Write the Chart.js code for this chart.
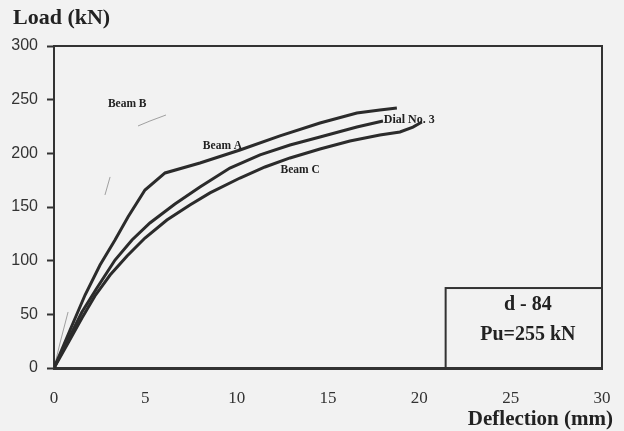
<!DOCTYPE html>
<html>
<head>
<meta charset="utf-8">
<script src="https://cdn.jsdelivr.net/npm/chart.js@4.4.1/dist/chart.umd.min.js"></script>
<style>
  html, body { margin: 0; padding: 0; background: #f2f2f2; }
  #wrap { width: 624px; height: 431px; position: relative; }
</style>
</head>
<body>
<div id="wrap"><canvas id="myChart" width="624" height="431"></canvas></div>
<script>
// Achsen
const xTicks = [0, 5, 10, 15, 20, 25, 30];
const yTicks = [0, 50, 100, 150, 200, 250, 300];

// Beam A (oberste Kurve)
const deflA = [0, 0.88, 1.70, 2.52, 3.34, 4.05, 4.98, 6.08, 7.99, 10.18, 12.37, 14.56, 16.58, 17.84, 18.77];
const loadA = [0, 35.4, 68.0, 96.0, 119.3, 140.7, 165.8, 181.7, 191.0, 203.1, 216.2, 228.3, 237.6, 240.4, 242.2];

// mittlere Kurve (endet bei Dial No. 3)
const deflM = [0, 0.77, 1.53, 2.35, 3.34, 4.27, 5.25, 6.62, 7.99, 9.63, 11.28, 12.92, 14.56, 16.58, 18.01];
const loadM = [0, 26.1, 52.2, 74.5, 100.6, 119.3, 135.1, 152.8, 168.6, 186.3, 198.5, 207.8, 215.2, 224.5, 230.1];

// Beam C (unterste Kurve)
const deflC = [0, 0.77, 1.53, 2.24, 3.07, 4.00, 4.98, 6.18, 7.44, 8.54, 10.18, 11.55, 12.92, 14.56, 16.20, 17.84, 18.94, 19.65, 20.14];
const loadC = [0, 23.3, 46.6, 67.1, 86.6, 104.4, 121.1, 137.9, 151.9, 163.1, 177.0, 187.3, 195.7, 204.0, 211.5, 217.1, 219.9, 224.5, 229.2];

// Beam B, nur blass erkennbar (Lücken = null)
const deflB = [0, 0.33, 0.77, null, 2.79, 3.07, null, 4.60, 5.25, 6.13];
const loadB = [0, 23.3, 52.2, null, 161.2, 178.0, null, 225.5, 230.1, 235.7];

// Beschriftungen im Diagramm
const curveLabels = [
  { text: 'Beam B', x: 2.95, y: 246, size: 11.5 },
  { text: 'Beam A', x: 8.15, y: 207, size: 11.5 },
  { text: 'Beam C', x: 12.4, y: 184, size: 11.5 },
  { text: 'Dial No. 3', x: 18.05, y: 231, size: 12 }
];

// Kasten unten rechts
const boxX = [21.44, 30];
const boxY = [0, 74.5];
const boxText = ['d - 84', 'Pu=255 kN'];

function toPoints(xs, ys) {
  return xs.map((x, i) => (x === null ? { x: null, y: null } : { x: x, y: ys[i] }));
}

const lineColor = '#2b2b2b';
const serif = "'Liberation Serif', 'DejaVu Serif', serif";

// eigene Zeichnungen: Rahmen, Titel, Beschriftungen, Kasten
const extras = {
  id: 'extras',
  afterDatasetsDraw(chart) {
    const ctx = chart.ctx;
    const a = chart.chartArea;
    const sx = chart.scales.x;
    const sy = chart.scales.y;
    ctx.save();

    // Rahmen oben und rechts
    ctx.strokeStyle = '#333';
    ctx.lineWidth = 2;
    ctx.beginPath();
    ctx.moveTo(a.left, a.top);
    ctx.lineTo(a.right, a.top);
    ctx.lineTo(a.right, a.bottom);
    ctx.stroke();

    // Kurvenbeschriftungen
    ctx.fillStyle = '#222';
    ctx.textBaseline = 'middle';
    ctx.textAlign = 'left';
    curveLabels.forEach(l => {
      ctx.font = 'bold ' + l.size + 'px ' + serif;
      ctx.fillText(l.text, sx.getPixelForValue(l.x), sy.getPixelForValue(l.y));
    });

    // Kasten
    const bl = sx.getPixelForValue(boxX[0]);
    const br = sx.getPixelForValue(boxX[1]);
    const bt = sy.getPixelForValue(boxY[1]);
    const bb = sy.getPixelForValue(boxY[0]);
    ctx.lineWidth = 2;
    ctx.strokeRect(bl, bt, br - bl, bb - bt);
    ctx.font = 'bold 20px ' + serif;
    ctx.textAlign = 'center';
    ctx.textBaseline = 'alphabetic';
    const cx = (bl + br) / 2 + 4;
    ctx.fillText(boxText[0], cx, bt + 22);
    ctx.fillText(boxText[1], cx, bt + 52);

    // Achsentitel
    ctx.font = 'bold 22px ' + serif;
    ctx.textAlign = 'left';
    ctx.fillText('Load (kN)', 13, 24);
    ctx.font = 'bold 21px ' + serif;
    ctx.textAlign = 'right';
    ctx.fillText('Deflection (mm)', 613, 425);

    ctx.restore();
  }
};

function lineSet(label, data, width, color) {
  return {
    label: label,
    data: data,
    showLine: true,
    borderColor: color,
    borderWidth: width,
    pointRadius: 0,
    tension: 0,
    spanGaps: false,
    fill: false
  };
}

const ctx = document.getElementById('myChart').getContext('2d');

let chart = new Chart(ctx, {
  type: 'scatter',
  data: {
    datasets: [
      lineSet('Beam A', toPoints(deflA, loadA), 3, lineColor),
      lineSet('Dial No. 3', toPoints(deflM, loadM), 3, lineColor),
      lineSet('Beam C', toPoints(deflC, loadC), 3, lineColor),
      lineSet('Beam B', toPoints(deflB, loadB), 1, 'rgba(60,60,60,0.45)')
    ]
  },
  options: {
    responsive: false,
    animation: false,
    layout: { padding: { left: 0, right: 22, top: 46, bottom: 0 } },
    plugins: {
      legend: { display: false },
      tooltip: { enabled: false }
    },
    scales: {
      x: {
        type: 'linear',
        min: xTicks[0],
        max: xTicks[xTicks.length - 1],
        afterFit: s => { s.height = 63; s.paddingLeft = 0; s.paddingRight = 0; },
        afterBuildTicks: s => { s.ticks = xTicks.map(v => ({ value: v })); },
        grid: { display: true, drawOnChartArea: false, drawTicks: false },
        border: { color: '#333', width: 3 },
        ticks: {
          padding: 20,
          maxRotation: 0,
          color: '#333',
          font: { family: serif, size: 17 }
        }
      },
      y: {
        type: 'linear',
        min: yTicks[0],
        max: yTicks[yTicks.length - 1],
        afterFit: s => { s.width = 54; s.paddingTop = 0; s.paddingBottom = 0; },
        afterBuildTicks: s => { s.ticks = yTicks.map(v => ({ value: v })); },
        grid: { display: true, drawOnChartArea: false, drawTicks: true, tickLength: 7, color: '#333', tickWidth: 2 },
        border: { color: '#333', width: 2 },
        ticks: {
          padding: 9,
          color: '#333',
          font: { family: "'Liberation Sans Narrow', 'Liberation Sans', sans-serif", size: 16 }
        }
      }
    }
  },
  plugins: [extras]
});
</script>
</body>
</html>
